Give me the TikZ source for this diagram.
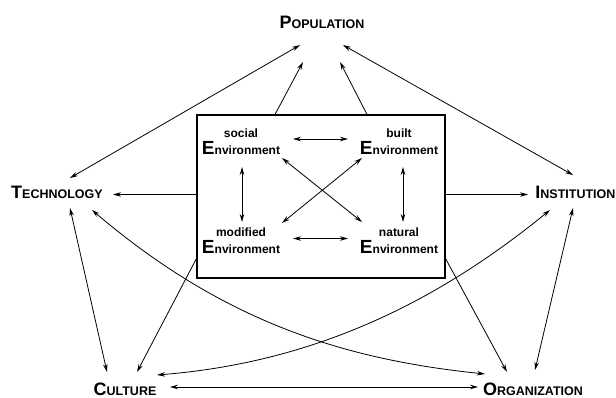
\documentclass[tikz,border=0pt]{standalone}
\usepackage{fontspec}
\setmainfont{Liberation Sans}
\usepackage{tikz}
\usetikzlibrary{calc,arrows.meta}

% big first letter, small capitals after it
\newcommand{\capword}[2]{{\bfseries\fontsize{18}{18}\selectfont #1\fontsize{12.5}{12.5}\selectfont #2}}
\newcommand{\bigE}{{\fontsize{19}{17}\selectfont E}}

\tikzset{
    factor/.style={inner sep=0pt},
    envnode/.style={inner sep=0pt, align=center, font=\bfseries\fontsize{12}{17}\selectfont},
    >={Stealth[length=8pt,width=4.5pt]}
}

\begin{document}
\begin{tikzpicture}[x=1pt,y=-1pt,line width=0.8pt]
    \useasboundingbox (0,0) rectangle (616,398);

    % Outer factors
    \node[factor] (pop) at (322,22) {\capword{P}{OPULATION}};
    \node[factor] (tech) at (57,192) {\capword{T}{ECHNOLOGY}};
    \node[factor,anchor=west] (inst) at (535,192) {\capword{I}{NSTITUTION}};
    \node[factor] (cult) at (125,389) {\capword{C}{ULTURE}};
    \node[factor] (org) at (533,389) {\capword{O}{RGANIZATION}};

    % Environment box with its four parts
    \node[draw, line width=1.1pt, minimum width=248, minimum height=163, inner sep=0pt] (box) at (321,196.5) {};
    \node[envnode] (soc) at (241,142) {social\\\bigE nvironment};
    \node[envnode] (blt) at (399,142) {built\\\bigE nvironment};
    \node[envnode] (mod) at (241,241) {modified\\\bigE nvironment};
    \node[envnode] (nat) at (399,241) {natural\\\bigE nvironment};

    % Links inside the box
    \draw[<->] ($(soc)+(52,-3)$) -- ($(blt)+(-51,-3)$);
    \draw[<->] ($(mod)+(52,-2.5)$) -- ($(nat)+(-51,-2.5)$);
    \draw[<->] ($(soc)+(1,25)$) -- ($(mod)+(1,-19)$);
    \draw[<->] ($(blt)+(4,25)$) -- ($(nat)+(4,-19)$);
    \draw[<->] ($(soc)+(41,16)$) -- ($(nat)+(-37,-19)$);
    \draw[<->] ($(blt)+(-37,16)$) -- ($(mod)+(41,-18)$);

    % Box to the factors
    \draw[->] ($(box.north)+(-46,0)$) -- ($(pop)+(-19,40)$);
    \draw[->] ($(box.north)+(46,0)$) -- ($(pop)+(18,40)$);
    \draw[->] ($(box.west)+(0,-2)$) -- ($(tech)+(56,2.5)$);
    \draw[->] ($(box.east)+(0,-2)$) -- ($(inst.west)+(-7,2.5)$);
    \draw[->] ($(box.south west)+(0,-20)$) -- ($(cult)+(12,-17)$);
    \draw[->] ($(box.south east)+(0,-20)$) -- ($(org)+(-26,-17)$);

    % Factor to factor
    \draw[<->] ($(pop)+(-22,23)$) -- ($(tech)+(13,-14)$);
    \draw[<->] ($(pop)+(21,23)$) -- ($(inst.west)+(38,-17)$);
    \draw[<->] ($(tech)+(13,16)$) -- ($(cult)+(-18,-17)$);
    \draw[<->] ($(inst.west)+(38,16)$) -- ($(org)+(2,-19)$);
    \draw[<->] ($(cult)+(45,-2)$) -- ($(org)+(-55,-2)$);
    \draw[<->] ($(tech)+(35,18)$) .. controls ($(tech)+(170,133)$) and ($(org)+(-183,-29)$) .. ($(org)+(-48,-15)$);
    \draw[<->] ($(cult)+(32,-14)$) .. controls ($(cult)+(182,-26)$) and ($(inst.west)+(-105,116)$) .. ($(inst.west)+(15,18)$);
\end{tikzpicture}
\end{document}
